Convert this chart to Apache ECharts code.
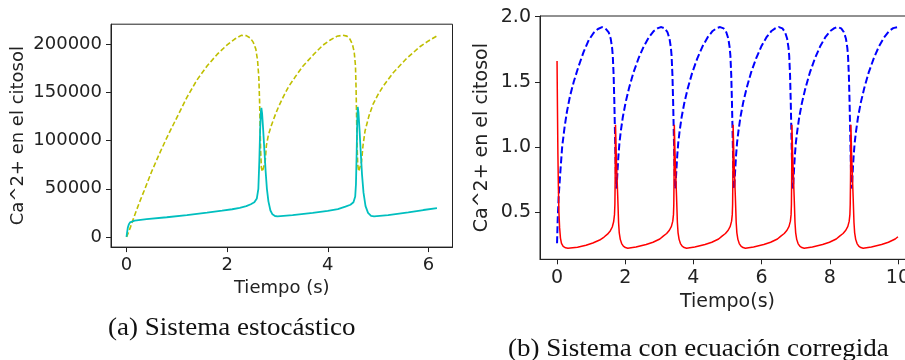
<!DOCTYPE html>
<html>
<head>
<meta charset="utf-8">
<script src="https://cdn.jsdelivr.net/npm/echarts@6/dist/echarts.min.js"></script>
<style>html,body{margin:0;padding:0;background:#fff}#c{width:905px;height:360px}</style>
</head>
<body>
<div id="c"></div>
<script>
// ---- Panel (a): stochastic system ----
const ticksA_x = [0, 2, 4, 6];
const ticksA_y = [0, 50000, 100000, 150000, 200000];
const yellowA = [[0,0],[0.04,5000],[0.08,10500],[0.15,21000],[0.25,35000],[0.35,48000],[0.5,68000],[0.65,86000],[0.8,103000],[1.0,124000],[1.2,145000],[1.4,163000],[1.6,177500],[1.8,189500],[2.0,199500],[2.15,205500],[2.28,209300],[2.38,209000],[2.46,206500],[2.52,202000],[2.57,195000],[2.605,183000],[2.63,165000],[2.645,140000],[2.655,115000],[2.665,90000],[2.68,72000],[2.7,67800],[2.73,68500],[2.755,78000],[2.78,95000],[2.82,106000],[2.88,116000],[2.95,126000],[3.02,135000],[3.12,146000],[3.22,156000],[3.35,166000],[3.5,177000],[3.71,189000],[3.9,199000],[4.05,204500],[4.18,208300],[4.3,209500],[4.38,208500],[4.44,205500],[4.49,200000],[4.525,192000],[4.55,178000],[4.562,155000],[4.572,125000],[4.582,95000],[4.595,75000],[4.615,68000],[4.645,69500],[4.67,78000],[4.7,95000],[4.74,110000],[4.82,126000],[4.9,138000],[5.0,148000],[5.1,156500],[5.3,170500],[5.56,185000],[5.83,197500],[6.0,203500],[6.17,208800]];
const cyanA = [[0,0],[0.01,4000],[0.025,9500],[0.045,13000],[0.07,15200],[0.1,16300],[0.16,17000],[0.4,18500],[0.8,20500],[1.2,22800],[1.6,25200],[1.9,27300],[2.1,28800],[2.25,30300],[2.38,32000],[2.47,34000],[2.54,36000],[2.59,40000],[2.62,50000],[2.64,80000],[2.655,110000],[2.67,130000],[2.68,134000],[2.695,128000],[2.715,112000],[2.74,90000],[2.765,68000],[2.79,50000],[2.82,37000],[2.86,27500],[2.9,23500],[2.95,21800],[3.0,21500],[3.3,22800],[3.7,25000],[4.0,27000],[4.2,29000],[4.35,31500],[4.45,33500],[4.51,36000],[4.545,42000],[4.56,55000],[4.575,90000],[4.585,120000],[4.595,135000],[4.61,129000],[4.63,112000],[4.655,88000],[4.68,65000],[4.71,46000],[4.75,32000],[4.8,25000],[4.86,22000],[4.92,21500],[5.2,22800],[5.6,25500],[5.9,28000],[6.17,30000]];

// ---- Panel (b): corrected equation ----
const ticksB_x = [0, 2, 4, 6, 8, 10];
const ticksB_y = [0.5, 1.0, 1.5, 2.0];
const redB = [[0,1.66],[0.012,1.3],[0.025,0.95],[0.04,0.68],[0.055,0.5],[0.075,0.38],[0.1,0.3],[0.13,0.26],[0.18,0.236],[0.25,0.225],[0.32,0.222],[0.6,0.23],[0.85,0.245],[1.05,0.262],[1.25,0.285],[1.38,0.308],[1.48,0.33],[1.56,0.355],[1.62,0.385],[1.66,0.425],[1.685,0.48],[1.697,0.56],[1.705,0.75],[1.71,0.95],[1.715,1.17],
[1.735,0.95],[1.755,0.8],[1.78,0.62],[1.805,0.42],[1.825,0.34],[1.855,0.29],[1.895,0.258],[1.945,0.238],[2.005,0.227],[2.075,0.222],[2.315,0.232],[2.615,0.25],[2.815,0.268],[3.015,0.293],[3.115,0.315],[3.215,0.335],[3.295,0.36],[3.355,0.39],[3.395,0.43],[3.415,0.48],[3.425,0.56],[3.432,0.75],[3.436,0.95],[3.44,1.17],
[3.46,0.95],[3.48,0.8],[3.505,0.62],[3.53,0.42],[3.55,0.34],[3.58,0.29],[3.62,0.258],[3.67,0.238],[3.73,0.227],[3.80,0.222],[4.04,0.232],[4.34,0.25],[4.54,0.268],[4.74,0.293],[4.84,0.315],[4.94,0.335],[5.02,0.36],[5.08,0.39],[5.12,0.43],[5.14,0.48],[5.15,0.56],[5.157,0.75],[5.161,0.95],[5.165,1.17],
[5.185,0.95],[5.205,0.8],[5.23,0.62],[5.255,0.42],[5.275,0.34],[5.305,0.29],[5.345,0.258],[5.395,0.238],[5.455,0.227],[5.525,0.222],[5.765,0.232],[6.065,0.25],[6.265,0.268],[6.465,0.293],[6.565,0.315],[6.665,0.335],[6.745,0.36],[6.805,0.39],[6.845,0.43],[6.865,0.48],[6.875,0.56],[6.882,0.75],[6.886,0.95],[6.89,1.17],
[6.91,0.95],[6.93,0.8],[6.955,0.62],[6.98,0.42],[7.0,0.34],[7.03,0.29],[7.07,0.258],[7.12,0.238],[7.18,0.227],[7.25,0.222],[7.49,0.232],[7.79,0.25],[7.99,0.268],[8.19,0.293],[8.29,0.315],[8.39,0.335],[8.47,0.36],[8.53,0.39],[8.57,0.43],[8.59,0.48],[8.60,0.56],[8.609,0.75],[8.615,0.95],[8.62,1.17],
[8.64,0.95],[8.66,0.8],[8.685,0.62],[8.71,0.42],[8.73,0.34],[8.76,0.29],[8.80,0.258],[8.85,0.238],[8.91,0.227],[8.98,0.222],[9.22,0.232],[9.52,0.25],[9.72,0.268],[9.92,0.293],[10.0,0.31]];
const blueB = [[0,0.26],[0.02,0.45],[0.05,0.63],[0.1,0.82],[0.15,1.0],[0.22,1.15],[0.29,1.27],[0.38,1.39],[0.49,1.5],[0.62,1.61],[0.78,1.73],[0.93,1.82],[1.07,1.875],[1.2,1.905],[1.32,1.92],[1.42,1.91],[1.515,1.88],[1.575,1.83],[1.615,1.76],[1.635,1.7],[1.66,1.55],[1.68,1.35],[1.70,1.1],[1.715,0.9],[1.727,0.76],[1.74,0.68],
[1.755,0.72],[1.775,0.82],[1.80,0.93],[1.83,1.03],[1.87,1.12],[1.93,1.23],[2.01,1.34],[2.11,1.45],[2.24,1.57],[2.39,1.68],[2.54,1.77],[2.69,1.84],[2.84,1.89],[2.96,1.912],[3.06,1.92],[3.16,1.91],[3.24,1.88],[3.30,1.83],[3.34,1.76],[3.36,1.7],[3.385,1.55],[3.405,1.35],[3.425,1.1],[3.44,0.9],[3.452,0.76],[3.465,0.68],
[3.48,0.72],[3.50,0.82],[3.525,0.93],[3.555,1.03],[3.595,1.12],[3.655,1.23],[3.735,1.34],[3.835,1.45],[3.965,1.57],[4.115,1.68],[4.265,1.77],[4.415,1.84],[4.565,1.89],[4.685,1.912],[4.785,1.92],[4.885,1.91],[4.965,1.88],[5.025,1.83],[5.065,1.76],[5.085,1.7],[5.11,1.55],[5.13,1.35],[5.15,1.1],[5.165,0.9],[5.177,0.76],[5.19,0.68],
[5.205,0.72],[5.225,0.82],[5.25,0.93],[5.28,1.03],[5.32,1.12],[5.38,1.23],[5.46,1.34],[5.56,1.45],[5.69,1.57],[5.84,1.68],[5.99,1.77],[6.14,1.84],[6.29,1.89],[6.41,1.912],[6.51,1.92],[6.61,1.91],[6.69,1.88],[6.75,1.83],[6.79,1.76],[6.81,1.7],[6.835,1.55],[6.855,1.35],[6.875,1.1],[6.89,0.9],[6.902,0.76],[6.915,0.68],
[6.93,0.72],[6.95,0.82],[6.975,0.93],[7.005,1.03],[7.045,1.12],[7.105,1.23],[7.185,1.34],[7.285,1.45],[7.415,1.57],[7.565,1.68],[7.715,1.77],[7.865,1.84],[8.015,1.89],[8.135,1.912],[8.235,1.92],[8.335,1.91],[8.415,1.88],[8.475,1.83],[8.515,1.76],[8.535,1.7],[8.56,1.55],[8.58,1.35],[8.60,1.1],[8.615,0.9],[8.627,0.76],[8.64,0.68],
[8.655,0.72],[8.675,0.82],[8.70,0.93],[8.73,1.03],[8.77,1.12],[8.83,1.23],[8.91,1.34],[9.01,1.45],[9.14,1.57],[9.29,1.68],[9.44,1.77],[9.59,1.84],[9.74,1.89],[9.86,1.912],[10.0,1.92]];

const captionA = '(a) Sistema estocástico';
const captionB = '(b) Sistema con ecuación corregida';

const FONT = '"DejaVu Sans", sans-serif';
const TXT = '#222';

function xAxisOf(grid, min, max, ticks, name, nameGap, fs, fmt) {
  return {
    type: 'value', gridIndex: grid, min: min, max: max,
    name: name, nameLocation: 'middle', nameGap: nameGap,
    nameTextStyle: { color: TXT, fontFamily: FONT, fontSize: fs },
    axisLine: { show: true, onZero: false, lineStyle: { color: TXT, width: 1 } },
    axisTick: { show: true, length: 5, lineStyle: { color: TXT, width: 1 }, customValues: ticks },
    splitLine: { show: false },
    axisLabel: { show: true, customValues: ticks, color: TXT, fontFamily: FONT, fontSize: fs, margin: 9, formatter: fmt, hideOverlap: false }
  };
}
function yAxisOf(grid, min, max, ticks, name, nameGap, fs, fmt) {
  const a = xAxisOf(grid, min, max, ticks, name, nameGap, fs, fmt);
  a.nameRotate = 90;
  return a;
}

const chart = echarts.init(document.getElementById('c'), null, { renderer: 'canvas' });
chart.setOption({
  animation: false,
  backgroundColor: '#fff',
  textStyle: { fontFamily: FONT, fontSize: 18, color: TXT },
  grid: [
    { left: 111, top: 24.2, width: 341.5, height: 222.9, show: true, borderColor: TXT, borderWidth: 1,
      backgroundColor: 'transparent', containLabel: false, outerBoundsMode: 'none' },
    { left: 540, top: 16, width: 375, height: 243.3, show: true, borderColor: TXT, borderWidth: 1,
      backgroundColor: 'transparent', containLabel: false, outerBoundsMode: 'none' }
  ],
  xAxis: [
    xAxisOf(0, -0.3085, 6.4785, ticksA_x, 'Tiempo (s)', 29, 18, v => String(v)),
    xAxisOf(1, -0.5, 10.5, ticksB_x, 'Tiempo(s)', 30, 19, v => String(v))
  ],
  yAxis: [
    yAxisOf(0, -10500, 220900, ticksA_y, 'Ca^2+ en el citosol', 84, 18, v => String(v)),
    yAxisOf(1, 0.137, 2.005, ticksB_y, 'Ca^2+ en el citosol', 48, 19, v => v.toFixed(1))
  ],
  series: [
    { type: 'line', xAxisIndex: 0, yAxisIndex: 0, data: yellowA, showSymbol: false, symbol: 'none',
      lineStyle: { color: '#bfbf00', width: 1.6, type: [5, 2.5] }, z: 2 },
    { type: 'line', xAxisIndex: 0, yAxisIndex: 0, data: cyanA, showSymbol: false, symbol: 'none',
      lineStyle: { color: '#00bfbf', width: 1.8 }, z: 3 },
    { type: 'line', xAxisIndex: 1, yAxisIndex: 1, data: blueB, showSymbol: false, symbol: 'none',
      lineStyle: { color: '#0000ff', width: 2, type: [7, 3] }, z: 2 },
    { type: 'line', xAxisIndex: 1, yAxisIndex: 1, data: redB, showSymbol: false, symbol: 'none',
      lineStyle: { color: '#ff0000', width: 1.5 }, z: 3 }
  ],
  graphic: [
    { type: 'text', x: 108, y: 328, scaleX: 1.08,
      style: { text: captionA, font: '25px "Liberation Serif", serif', fill: '#111', textVerticalAlign: 'middle', verticalAlign: 'middle' } },
    { type: 'text', x: 508, y: 349, scaleX: 1.08,
      style: { text: captionB, font: '25px "Liberation Serif", serif', fill: '#111', textVerticalAlign: 'middle', verticalAlign: 'middle' } }
  ]
});
</script>
</body>
</html>
